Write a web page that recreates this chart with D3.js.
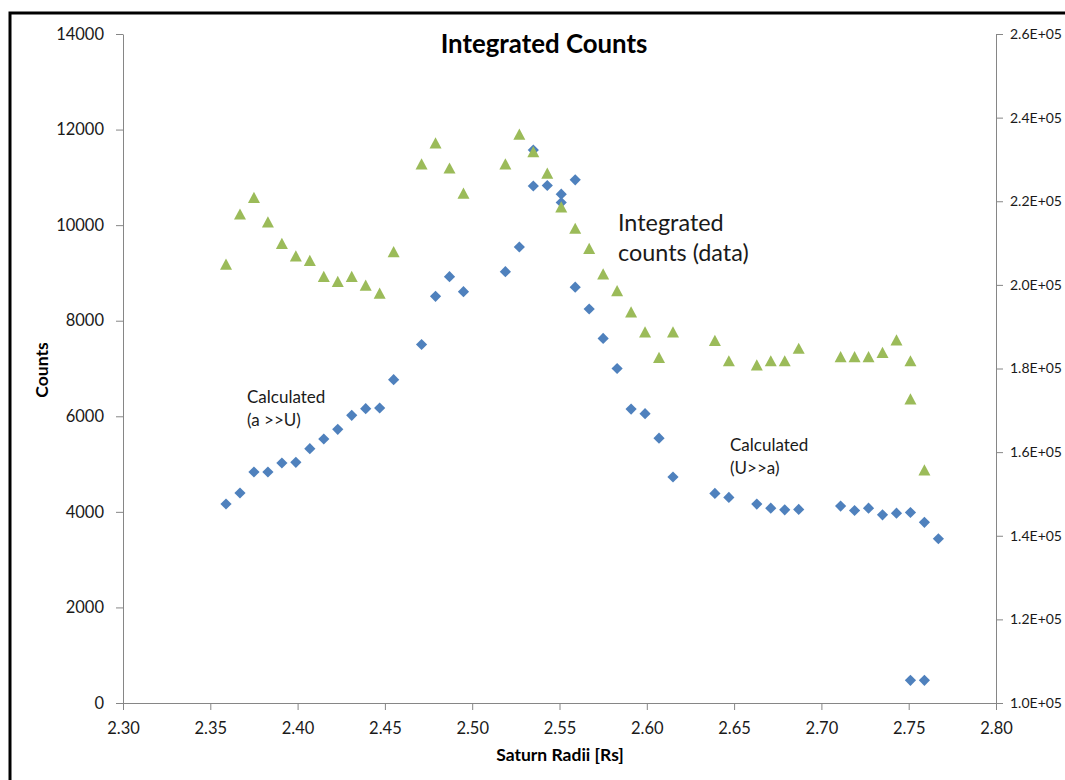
<!DOCTYPE html>
<html>
<head>
<meta charset="utf-8">
<script src="https://cdn.jsdelivr.net/npm/d3@7"></script>
<style>
  html, body { margin: 0; padding: 0; background: #fff; }
  svg { display: block; font-family: Lato, "Noto Sans", sans-serif; }
</style>
</head>
<body>
<svg id="chart" width="1065" height="780"></svg>
<script>
// Radial distance (Saturn radii) for the measured integrated counts
const radiusData = [
  2.359, 2.367, 2.375, 2.383, 2.391, 2.399, 2.407, 2.415, 2.423, 2.431, 2.439, 2.447, 2.455,
  2.471, 2.479, 2.487, 2.495, 2.519, 2.527, 2.535, 2.543, 2.551, 2.559, 2.567, 2.575, 2.583,
  2.591, 2.599, 2.607, 2.615, 2.639, 2.647, 2.663, 2.671, 2.679, 2.687, 2.711, 2.719, 2.727,
  2.735, 2.743, 2.751, 2.751, 2.759
];
// Integrated counts (data), plotted against the right-hand axis
const integratedData = [
  204900, 216900, 220900, 215000, 209900, 206900, 205800, 202000, 200800, 202000, 199900, 198000, 207900,
  228900, 233900, 227900, 221900, 228900, 236000, 231800, 226700, 218600, 213500, 208700, 202600, 198600,
  193500, 188700, 182600, 188700, 186700, 181800, 180800, 181800, 181800, 184800, 182800, 182800, 182800,
  183800, 186800, 181800, 172700, 155700
];

// Calculated counts, a >> U case
const radiusAU = [
  2.359, 2.367, 2.375, 2.383, 2.391, 2.399, 2.407, 2.415, 2.423, 2.431, 2.439, 2.447, 2.455,
  2.471, 2.479, 2.487, 2.495, 2.519, 2.527, 2.535, 2.543, 2.551, 2.559, 2.751, 2.759
];
const calcAU = [
  4164, 4395, 4834, 4834, 5022, 5037, 5322, 5525, 5728, 6021, 6159, 6173, 6766,
  7502, 8511, 8921, 8607, 9026, 9543, 11572, 10830, 10648, 10949, 475, 475
];

// Calculated counts, U >> a case
const radiusUA = [
  2.535, 2.551, 2.559, 2.567, 2.575, 2.583, 2.591, 2.599, 2.607, 2.615, 2.639, 2.647, 2.663,
  2.671, 2.679, 2.687, 2.711, 2.719, 2.727, 2.735, 2.743, 2.751, 2.759, 2.767
];
const calcUA = [
  10819, 10474, 8701, 8245, 7630, 7000, 6150, 6054, 5541, 4729, 4386, 4303, 4162,
  4077, 4043, 4050, 4120, 4028, 4077, 3938, 3972, 3987, 3780, 3437
];

// Axis ticks
const xTicks = [2.30, 2.35, 2.40, 2.45, 2.50, 2.55, 2.60, 2.65, 2.70, 2.75, 2.80];
const leftTicks = [0, 2000, 4000, 6000, 8000, 10000, 12000, 14000];
const rightTicks = [100000, 120000, 140000, 160000, 180000, 200000, 220000, 240000, 260000];

const BLUE = "#4F81BD";
const GREEN = "#9BBB59";
const AXIS = "#868686";
const TEXT = "#1a1a1a";

const svg = d3.select("#chart");
const plot = { left: 123, right: 996, top: 34, bottom: 703 };

const x = d3.scaleLinear().domain([2.30, 2.80]).range([plot.left, plot.right]);
const yLeft = d3.scaleLinear().domain([0, 14000]).range([plot.bottom, plot.top]);
const yRight = d3.scaleLinear().domain([100000, 260000]).range([plot.bottom, plot.top]);

// Outer chart frame (runs off the right and bottom edges)
svg.append("rect")
  .attr("x", 10).attr("y", 13)
  .attr("width", 1080).attr("height", 800)
  .attr("fill", "none").attr("stroke", "#000").attr("stroke-width", 3);

function styleAxis(g, fontSize) {
  g.select(".domain").attr("stroke", AXIS).attr("stroke-width", 1);
  g.selectAll(".tick line").attr("stroke", AXIS).attr("stroke-width", 1);
  g.selectAll(".tick text").attr("fill", TEXT).attr("font-size", fontSize)
    .attr("font-family", "Lato, 'Noto Sans', sans-serif");
}

// Bottom axis
const gx = svg.append("g")
  .attr("transform", `translate(0,${plot.bottom})`)
  .call(d3.axisBottom(x).tickValues(xTicks).tickFormat(d3.format(".2f"))
    .tickSizeInner(7).tickSizeOuter(0).tickPadding(12));
styleAxis(gx, 16.5);

// Left axis
const gl = svg.append("g")
  .attr("transform", `translate(${plot.left},0)`)
  .call(d3.axisLeft(yLeft).tickValues(leftTicks).tickFormat(d3.format("d"))
    .tickSizeInner(7).tickSizeOuter(0).tickPadding(12));
styleAxis(gl, 16.5);

// Right axis
const sciFormat = d => (d / 1e5).toFixed(1) + "E+05";
const gr = svg.append("g")
  .attr("transform", `translate(${plot.right},0)`)
  .call(d3.axisRight(yRight).tickValues(rightTicks).tickFormat(sciFormat)
    .tickSizeInner(7).tickSizeOuter(0).tickPadding(7));
styleAxis(gr, 14);

// Marker shapes
const diamondPath = "M0,-5.6L5.6,0L0,5.6L-5.6,0Z";
const trianglePath = "M0,-5.8L6,5.4L-6,5.4Z";

function drawSeries(xs, ys, yScale, path, color) {
  svg.append("g").selectAll("path")
    .data(xs.map((r, i) => [r, ys[i]]))
    .join("path")
    .attr("d", path)
    .attr("fill", color)
    .attr("transform", d => `translate(${x(d[0])},${yScale(d[1])})`);
}

drawSeries(radiusAU, calcAU, yLeft, diamondPath, BLUE);
drawSeries(radiusUA, calcUA, yLeft, diamondPath, BLUE);
drawSeries(radiusData, integratedData, yRight, trianglePath, GREEN);

// Title and axis titles
svg.append("text")
  .attr("x", 544).attr("y", 53)
  .attr("text-anchor", "middle")
  .attr("font-size", 25.8).attr("font-weight", "bold").attr("fill", "#000")
  .text("Integrated Counts");

svg.append("text")
  .attr("x", 560).attr("y", 761)
  .attr("text-anchor", "middle")
  .attr("font-size", 17.5).attr("font-weight", "bold").attr("fill", "#000")
  .text("Saturn Radii [Rs]");

svg.append("text")
  .attr("transform", "translate(48,370) rotate(-90)")
  .attr("text-anchor", "middle")
  .attr("font-size", 17.5).attr("font-weight", "bold").attr("fill", "#000")
  .text("Counts");

// In-plot annotations
function note(xPos, yPos, lines, size, lineHeight) {
  const t = svg.append("text").attr("font-size", size).attr("fill", TEXT);
  lines.forEach((s, i) => {
    t.append("tspan").attr("x", xPos).attr("y", yPos + i * lineHeight).text(s);
  });
}
note(618, 231, ["Integrated", "counts (data)"], 23.4, 30);
note(247, 403, ["Calculated", "(a >>U)"], 17, 22.5);
note(730, 451, ["Calculated", "(U>>a)"], 17, 22.5);
</script>
</body>
</html>
